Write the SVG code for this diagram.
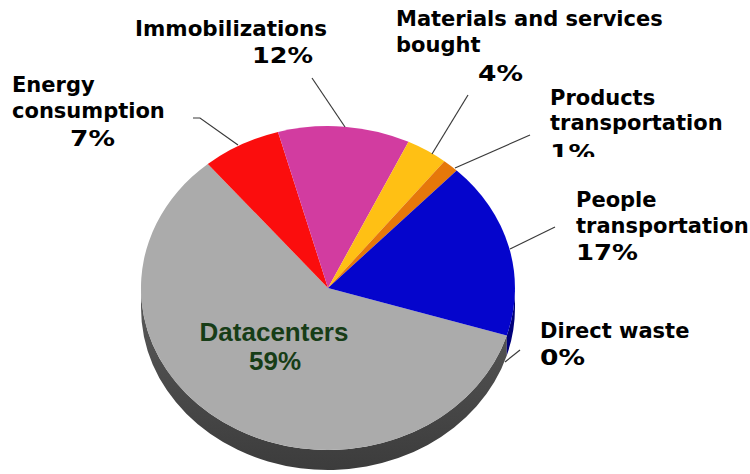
<svg xmlns="http://www.w3.org/2000/svg" width="750" height="474" viewBox="0 0 750 474">
<defs>
<style>
.lbl{font-family:"DejaVu Sans","Verdana",sans-serif;font-weight:bold;font-size:21px;fill:#000}
.dc{font-family:"Liberation Sans",Arial,sans-serif;font-weight:bold;font-size:26px;fill:#173d17;text-anchor:middle}
.lead{fill:none;stroke:#3a3a3a;stroke-width:1.2}
.slice{stroke:none}
</style>
<linearGradient id="sideG" x1="0" y1="0" x2="0" y2="1">
<stop offset="0" stop-color="#5a5a5a"/>
<stop offset="1" stop-color="#3c3c3c"/>
</linearGradient>
<clipPath id="clip1"><rect x="540" y="140" width="100" height="17"/></clipPath>
</defs>
<rect width="750" height="474" fill="#fff"/>

<g id="pie-side">
<path d="M 506.8 335.4 L 506.8 355.4 A 187 162 0 0 1 141 308 L 141 288 A 187 162 0 0 0 506.8 335.4 Z" fill="url(#sideG)"/>
<path d="M 515 288 L 515 308 A 187 162 0 0 1 506.8 355.4 L 506.8 335.4 A 187 162 0 0 0 515 288 Z" fill="#00007a"/>
</g>

<g id="datacenters">
<path class="slice" d="M 328 288 L 506.8 335.4 A 187 162 0 1 1 207.8 163.9 Z" fill="#ababab"/>
<text class="dc" x="274" y="341">Datacenters</text>
<text class="dc" x="275" y="370">59%</text>
</g>
<g id="energy">
<path class="slice" d="M 328 288 L 207.8 163.9 A 187 162 0 0 1 278 131.9 Z" fill="#fb0d0d"/>
<text class="lbl" x="12" y="92">Energy</text>
<text class="lbl" x="12" y="118">consumption</text>
<text class="lbl" x="70" y="146" textLength="45" lengthAdjust="spacingAndGlyphs">7%</text>
</g>
<g id="immobilizations">
<path class="slice" d="M 328 288 L 278 131.9 A 187 162 0 0 1 408.5 141.8 Z" fill="#d23ca0"/>
<text class="lbl" x="135" y="36" textLength="192" lengthAdjust="spacingAndGlyphs">Immobilizations</text>
<text class="lbl" x="252" y="63" textLength="61" lengthAdjust="spacingAndGlyphs">12%</text>
</g>
<g id="materials">
<path class="slice" d="M 328 288 L 408.5 141.8 A 187 162 0 0 1 444.4 161.2 Z" fill="#ffc014"/>
<text class="lbl" x="396" y="26">Materials and services</text>
<text class="lbl" x="396" y="52">bought</text>
<text class="lbl" x="478" y="81" textLength="45" lengthAdjust="spacingAndGlyphs">4%</text>
</g>
<g id="products">
<path class="slice" d="M 328 288 L 444.4 161.2 A 187 162 0 0 1 456.7 170.5 Z" fill="#e6780a"/>
<text class="lbl" x="550" y="105">Products</text>
<text class="lbl" x="550" y="130">transportation</text>
<text class="lbl" x="550" y="160" clip-path="url(#clip1)" textLength="45" lengthAdjust="spacingAndGlyphs">1%</text>
</g>
<g id="people">
<path class="slice" d="M 328 288 L 456.7 170.5 A 187 162 0 0 1 506.8 335.4 Z" fill="#0505cc"/>
<text class="lbl" x="576" y="207">People</text>
<text class="lbl" x="576" y="233">transportation</text>
<text class="lbl" x="576" y="260" textLength="62" lengthAdjust="spacingAndGlyphs">17%</text>
</g>
<g id="direct-waste">
<text class="lbl" x="540" y="338">Direct waste</text>
<text class="lbl" x="540" y="365" textLength="45" lengthAdjust="spacingAndGlyphs">0%</text>
</g>

<g id="connectors">
<polyline class="lead" points="193,118 200,118 238,145"/>
<polyline class="lead" points="312,78 345,127"/>
<polyline class="lead" points="468,95 432,154"/>
<polyline class="lead" points="530,135 455,168"/>
<polyline class="lead" points="555,227 510,249"/>
<polyline class="lead" points="520,350 505,362"/>
</g>
</svg>
